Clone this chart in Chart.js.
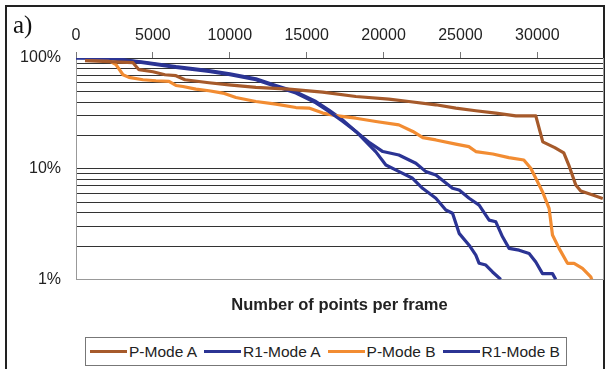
<!DOCTYPE html>
<html>
<head>
<meta charset="utf-8">
<script src="https://cdn.jsdelivr.net/npm/chart.js@4.4.0/dist/chart.umd.min.js"></script>
<style>
html,body{margin:0;padding:0;background:#fff;width:608px;height:369px;overflow:hidden;}
#frame{position:absolute;left:5px;top:5px;width:600px;height:420px;border:2px solid #222;box-sizing:border-box;}
#chartCanvas{position:absolute;left:0;top:0;}
#panel{position:absolute;left:13px;top:12px;font:25px/25px "Liberation Serif",serif;color:#111;}
#legend{position:absolute;left:85px;top:337px;width:482px;height:29px;border:1px solid #777;box-sizing:border-box;display:flex;align-items:center;padding-left:4px;background:#fff;font:15.5px "Liberation Sans",Arial,sans-serif;color:#222;white-space:nowrap;}
#legend .item{display:flex;align-items:center;margin-right:7px;}
#legend .swatch{display:inline-block;width:37px;height:3px;margin-right:2px;}
</style>
</head>
<body>
<div id="frame"></div>
<canvas id="chartCanvas" width="608" height="369"></canvas>
<div id="panel">a)</div>
<div id="legend"></div>
<script>
// ---- data ----
const seriesNames = ["P-Mode A", "R1-Mode A", "P-Mode B", "R1-Mode B"];
const seriesColors = ["#A65A2B", "#2B3494", "#F28C32", "#2B3494"];
const xTickValues = [0, 5000, 10000, 15000, 20000, 25000, 30000];
const yTickValues = [1,2,3,4,5,6,7,8,9,10,20,30,40,50,60,70,80,90,100];
const yLabelValues = [1, 10, 100];
const xTitle = "Number of points per frame";

const pModeA_x = [585, 2145, 3705, 4095, 5005, 5785, 6500, 7085, 8645, 9945, 11700, 13845, 16035, 18200, 20345, 21645, 23400, 24700, 26000, 27300, 28600, 29900, 30355, 31135, 31720, 32045, 32500, 32825, 33605, 34255];
const pModeA_y = [94.5, 92.6, 90.7, 78.4, 75.2, 70.6, 69.2, 63.6, 59.8, 57.3, 54.4, 52.4, 49.2, 44.9, 42.6, 40.5, 37.8, 35.3, 33.4, 31.8, 30.0, 30.0, 17.5, 15.5, 13.9, 10.8, 7.13, 6.30, 5.79, 5.38];

const r1ModeA_x = [0, 2145, 4355, 6500, 8645, 10010, 11700, 13000, 14300, 15600, 16445, 17355, 18200, 18850, 19500, 20150, 21015, 21886, 22536, 23400, 24050, 24486, 24915, 25565, 26000, 26215, 26650, 27086, 27625];
const r1ModeA_y = [100, 99.6, 90.7, 82.2, 75.6, 70.6, 63.6, 55.3, 48.2, 39.4, 32.9, 26.7, 21.7, 17.6, 14.2, 10.8, 9.42, 8.20, 6.66, 5.41, 4.24, 3.96, 2.61, 2.04, 1.66, 1.40, 1.35, 1.17, 1.0];

const pModeB_x = [650, 2145, 2600, 3055, 3445, 4355, 5200, 6045, 6500, 6955, 7800, 8645, 9555, 10400, 11700, 13000, 14300, 15145, 16055, 16900, 18200, 19500, 20995, 21905, 22555, 23400, 24700, 25545, 26000, 27105, 28145, 29120, 29575, 30335, 30765, 30985, 31415, 31960, 32390, 32935, 33475, 33540];
const pModeB_y = [96.5, 94.5, 87.0, 70.6, 66.8, 63.6, 62.3, 61.4, 56.5, 55.3, 52.4, 50.6, 48.2, 44.0, 40.5, 38.3, 35.7, 35.3, 31.8, 30.2, 28.6, 26.7, 24.9, 21.7, 19.1, 18.2, 16.7, 15.85, 14.3, 13.6, 12.6, 12.0, 10.1, 6.21, 4.39, 2.52, 1.91, 1.40, 1.40, 1.26, 1.057, 1.0];

const r1ModeB_x = [0, 2145, 4355, 6500, 8645, 10010, 11700, 13000, 14300, 15600, 16445, 17355, 18200, 19110, 19955, 20995, 22100, 22750, 23400, 24486, 24915, 25565, 26215, 26865, 27300, 27736, 28165, 28815, 29465, 29900, 30336, 30986, 31200];
const r1ModeB_y = [100, 99.8, 92, 83.5, 77, 72, 65, 56.5, 49.5, 40.5, 33.8, 27.5, 21.7, 17.1, 14.3, 13.3, 11.2, 9.42, 8.79, 6.66, 6.43, 5.41, 4.70, 3.44, 3.32, 2.43, 1.91, 1.84, 1.72, 1.44, 1.13, 1.13, 1.0];

// ---- build ----
const xs = [pModeA_x, r1ModeA_x, pModeB_x, r1ModeB_x];
const ys = [pModeA_y, r1ModeA_y, pModeB_y, r1ModeB_y];
const datasets = seriesNames.map((name, i) => ({
  label: name,
  data: xs[i].map((x, j) => ({x: x, y: ys[i][j]})),
  borderColor: seriesColors[i],
  backgroundColor: seriesColors[i],
  borderWidth: 3.2,
  pointRadius: 0,
  tension: 0,
  fill: false
}));

const fontSans = "'Liberation Sans', Arial, sans-serif";
const chart = new Chart(document.getElementById('chartCanvas'), {
  type: 'line',
  data: {datasets: datasets},
  options: {
    responsive: false,
    animation: false,
    devicePixelRatio: 1,
    layout: {padding: {left: 0, right: 5, top: 0, bottom: 0}},
    plugins: {legend: {display: false}, tooltip: {enabled: false}},
    elements: {line: {borderJoinStyle: 'round'}},
    scales: {
      x: {
        type: 'linear', position: 'top', min: 0, max: 34270,
        afterBuildTicks: s => { s.ticks = xTickValues.map(v => ({value: v})); },
        afterFit: s => { s.height = 58; },
        grid: {drawOnChartArea: false, drawTicks: true, tickLength: 6, color: '#777'},
        border: {display: true, color: '#333'},
        ticks: {padding: 7, color: '#222', font: {family: fontSans, size: 16}, maxRotation: 0, autoSkip: false, callback: v => String(v)}
      },
      x2: {
        type: 'linear', position: 'bottom', min: 0, max: 34270,
        grid: {display: false},
        ticks: {display: false},
        border: {display: true, color: '#999'},
        afterFit: s => { s.height = 89.5; },
        title: {display: true, text: xTitle, color: '#222', font: {family: fontSans, size: 16.5, weight: 'bold'}, padding: {top: 0, bottom: 54}}
      },
      y: {
        type: 'logarithmic', position: 'left', min: 1, max: 100,
        afterBuildTicks: s => { s.ticks = yTickValues.map(v => ({value: v})); },
        afterFit: s => { s.width = 76; },
        grid: {drawTicks: false, lineWidth: 1, color: c => (c.tick && c.tick.value === 1) ? '#999' : '#333'},
        border: {display: true, color: '#999'},
        ticks: {padding: 15, autoSkip: false, color: '#222', font: {family: fontSans, size: 16},
          callback: v => yLabelValues.includes(v) ? (v + '%') : ''}
      },
      y2: {
        type: 'linear', position: 'right', min: 0, max: 1,
        grid: {display: false},
        ticks: {display: false},
        border: {display: true, color: '#999'},
        afterFit: s => { s.width = 0; }
      }
    }
  }
});

// HTML legend from the chart's datasets
const legend = document.getElementById('legend');
chart.data.datasets.forEach(ds => {
  const item = document.createElement('span');
  item.className = 'item';
  const sw = document.createElement('span');
  sw.className = 'swatch';
  sw.style.background = ds.borderColor;
  const tx = document.createElement('span');
  tx.textContent = ds.label;
  item.appendChild(sw);
  item.appendChild(tx);
  legend.appendChild(item);
});
</script>
</body>
</html>
